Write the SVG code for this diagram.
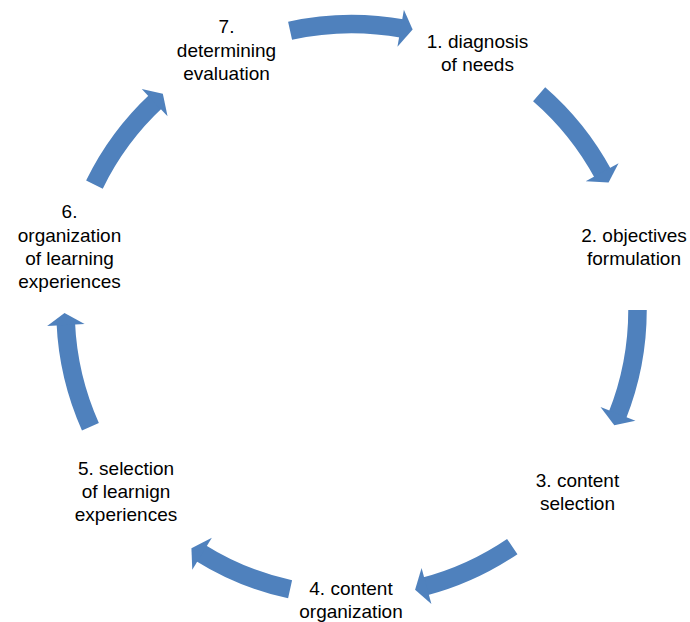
<svg xmlns="http://www.w3.org/2000/svg" xmlns:xlink="http://www.w3.org/1999/xlink" width="690" height="622" viewBox="0 0 690 622">
  <style>
    .lbl { font-family: "Liberation Sans", Arial, sans-serif; font-size: 19px; fill: #000; text-anchor: middle; }
    .band { fill: none; stroke: #4F81BD; stroke-width: 18.5; stroke-linecap: butt; }
    .head { fill: #4F81BD; }
  </style>
  <defs>
    <polygon id="hd" class="head" points="304.75,0 286.75,12.02 267.25,0"/>
  </defs>
  <rect width="690" height="622" fill="#fff"/>
  <g id="connectors">
    <g transform="translate(351.5,310) rotate(-80.1)">
      <path class="band" d="M264.61,-108.54 A286,286 0 0 1 285.99,2.5"/>
      <use xlink:href="#hd"/>
    </g>
    <g transform="translate(351.5,310) rotate(-28.8)">
      <path class="band" d="M268.41,-98.76 A286,286 0 0 1 285.99,2.5"/>
      <use xlink:href="#hd"/>
    </g>
    <g transform="translate(351.5,310) rotate(21.3)">
      <path class="band" d="M266.47,-103.90 A286,286 0 0 1 285.99,2.5"/>
      <use xlink:href="#hd"/>
    </g>
    <g transform="translate(351.5,310) rotate(74.8)">
      <path class="band" d="M270.41,-93.12 A286,286 0 0 1 285.99,2.5"/>
      <use xlink:href="#hd"/>
    </g>
    <g transform="translate(351.5,310) rotate(121.5)">
      <path class="band" d="M270.24,-93.58 A286,286 0 0 1 285.99,2.5"/>
      <use xlink:href="#hd"/>
    </g>
    <g transform="translate(351.5,310) rotate(177.0)">
      <path class="band" d="M266.84,-102.96 A286,286 0 0 1 285.99,2.5"/>
      <use xlink:href="#hd"/>
    </g>
    <g transform="translate(351.5,310) rotate(226.5)">
      <path class="band" d="M267.90,-100.16 A286,286 0 0 1 285.99,2.5"/>
      <use xlink:href="#hd"/>
    </g>
  </g>
  <g id="node1">
    <text class="lbl" x="477.5" y="47.5">1. diagnosis</text>
    <text class="lbl" x="477.5" y="70.5">of needs</text>
  </g>
  <g id="node2">
    <text class="lbl" x="634" y="242">2. objectives</text>
    <text class="lbl" x="634" y="265">formulation</text>
  </g>
  <g id="node3">
    <text class="lbl" x="577.5" y="487">3. content</text>
    <text class="lbl" x="577.5" y="510">selection</text>
  </g>
  <g id="node4">
    <text class="lbl" x="351" y="595">4. content</text>
    <text class="lbl" x="351" y="618">organization</text>
  </g>
  <g id="node5">
    <text class="lbl" x="126" y="475">5. selection</text>
    <text class="lbl" x="126" y="498">of learnign</text>
    <text class="lbl" x="126" y="521">experiences</text>
  </g>
  <g id="node6">
    <text class="lbl" x="69.5" y="218.3">6.</text>
    <text class="lbl" x="69.5" y="241.5">organization</text>
    <text class="lbl" x="69.5" y="264.5">of learning</text>
    <text class="lbl" x="69.5" y="287.5">experiences</text>
  </g>
  <g id="node7">
    <text class="lbl" x="226.5" y="33.3">7.</text>
    <text class="lbl" x="226.5" y="56.7">determining</text>
    <text class="lbl" x="226.5" y="80">evaluation</text>
  </g>
</svg>
